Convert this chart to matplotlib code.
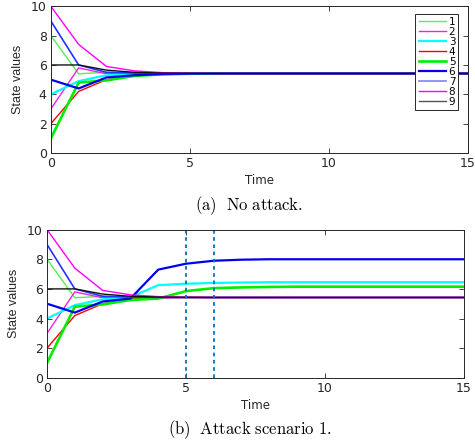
import matplotlib as mpl
import matplotlib.pyplot as plt

mpl.use('Agg')
plt.rcParams['mathtext.fontset'] = 'cm'

# time steps
time = [0, 1, 2, 3, 4, 5, 6, 7, 8, 9, 10, 11, 12, 13, 14, 15]

# state trajectories, no attack
no_attack = {
    '1': [8, 5.40, 5.50, 5.45, 5.43, 5.42, 5.42, 5.42, 5.42, 5.42, 5.42, 5.42, 5.42, 5.42, 5.42, 5.42],
    '2': [3, 5.80, 5.40, 5.40, 5.41, 5.42, 5.42, 5.42, 5.42, 5.42, 5.42, 5.42, 5.42, 5.42, 5.42, 5.42],
    '3': [4, 4.90, 5.30, 5.40, 5.41, 5.42, 5.42, 5.42, 5.42, 5.42, 5.42, 5.42, 5.42, 5.42, 5.42, 5.42],
    '4': [2, 4.20, 5.00, 5.30, 5.40, 5.42, 5.42, 5.42, 5.42, 5.42, 5.42, 5.42, 5.42, 5.42, 5.42, 5.42],
    '5': [1, 4.80, 4.95, 5.25, 5.36, 5.40, 5.42, 5.42, 5.42, 5.42, 5.42, 5.42, 5.42, 5.42, 5.42, 5.42],
    '6': [5, 4.40, 5.15, 5.30, 5.38, 5.41, 5.42, 5.42, 5.42, 5.42, 5.42, 5.42, 5.42, 5.42, 5.42, 5.42],
    '7': [9, 6.00, 5.50, 5.45, 5.43, 5.42, 5.42, 5.42, 5.42, 5.42, 5.42, 5.42, 5.42, 5.42, 5.42, 5.42],
    '8': [10, 7.40, 5.90, 5.60, 5.48, 5.44, 5.42, 5.42, 5.42, 5.42, 5.42, 5.42, 5.42, 5.42, 5.42, 5.42],
    '9': [6, 6.00, 5.65, 5.50, 5.45, 5.43, 5.42, 5.42, 5.42, 5.42, 5.42, 5.42, 5.42, 5.42, 5.42, 5.42],
}

# attack scenario 1: agents 3, 5, 6 are pushed away
attack = dict(no_attack)
attack['3'] = [4, 4.90, 5.30, 5.45, 6.25, 6.35, 6.40, 6.43, 6.45, 6.45, 6.45, 6.45, 6.45, 6.45, 6.45, 6.45]
attack['5'] = [1, 4.80, 4.95, 5.25, 5.35, 5.85, 6.05, 6.10, 6.13, 6.15, 6.15, 6.15, 6.15, 6.15, 6.15, 6.15]
attack['6'] = [5, 4.40, 5.15, 5.35, 7.30, 7.70, 7.90, 7.97, 8.00, 8.00, 8.00, 8.00, 8.00, 8.00, 8.00, 8.00]
attack_times = [5, 6]

colors = {'1': '#55ee55', '2': '#ee22ee', '3': '#00ffff', '4': '#ff0000', '5': '#00ee00',
          '6': '#0000ee', '7': '#2233ff', '8': '#ff00ff', '9': '#111111'}
widths = {'1': 1.0, '2': 1.0, '3': 1.6, '4': 1.0, '5': 1.9,
          '6': 1.6, '7': 1.2, '8': 1.0, '9': 1.0}
legend_colors = {'7': '#8080ff', '9': '#555555'}


def style_axes(ax):
    ax.set_xlim(0, 15)
    ax.set_ylim(0, 10)
    ax.set_xticks([0, 5, 10, 15])
    ax.set_yticks([0, 2, 4, 6, 8, 10])
    ax.tick_params(direction='in', top=True, right=True, length=3.5, width=0.6,
                   labelsize=9, colors='#262626', pad=3)
    for sp in ax.spines.values():
        sp.set_color('#262626')
        sp.set_linewidth(0.7)
    ax.set_xlabel('Time', fontsize=8.5, color='#262626', labelpad=3)
    ax.set_ylabel('State values', fontsize=9, color='#262626', family='Liberation Sans',
                  labelpad=5)


fig = plt.figure(figsize=(4.75, 4.45), dpi=100)
ax1 = fig.add_axes([0.107, 0.656, 0.878, 0.330])
ax2 = fig.add_axes([0.099, 0.151, 0.878, 0.333])

handles = []
for key, vals in no_attack.items():
    ax1.plot(time, vals, color=colors[key], lw=widths[key])
    h, = ax1.plot([], [], color=legend_colors.get(key, colors[key]), lw=widths[key], label=key)
    handles.append(h)
style_axes(ax1)
leg = ax1.legend(handles=handles, loc='upper right', fontsize=7.5, handlelength=2.6,
                 handletextpad=0.3, labelspacing=0.0, borderpad=0.3, fancybox=False,
                 framealpha=1, edgecolor='#262626', bbox_to_anchor=(0.99, 0.985))
leg.get_frame().set_linewidth(0.7)

for key, vals in attack.items():
    ax2.plot(time, vals, color=colors[key], lw=widths[key])
for t in attack_times:
    ax2.axvline(t, color=(0, 0.447, 0.741), lw=1.3, ls=(0, (2, 2)))
style_axes(ax2)

fig.text(0.525, 0.539, r'$\mathrm{(a)\ \ No\ attack.}$', ha='center', va='center', fontsize=12)
fig.text(0.525, 0.034, r'$\mathrm{(b)\ \ Attack\ scenario\ 1.}$', ha='center', va='center', fontsize=12)

fig.savefig('out.png', dpi=100)
